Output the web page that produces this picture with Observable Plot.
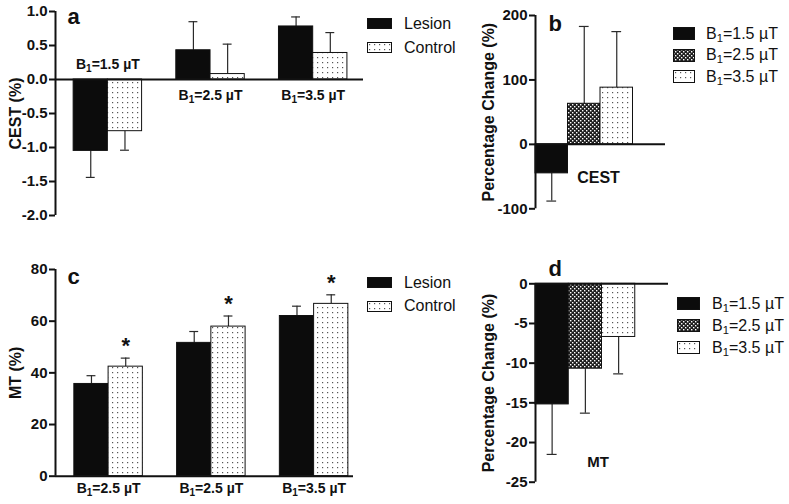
<!DOCTYPE html>
<html>
<head>
<meta charset="utf-8">
<script src="https://cdn.jsdelivr.net/npm/d3@7"></script>
<script src="https://cdn.jsdelivr.net/npm/@observablehq/plot@0.6"></script>
<style>
  body { margin: 0; background: #fff; }
  #fig { position: relative; width: 789px; height: 504px; overflow: hidden; background: #fff;
         font-family: "Liberation Sans", Arial, Helvetica, sans-serif; color: #111; }
  .panel { position: absolute; }
  .lg { position: absolute; display: flex; align-items: center; font-size: 16px; line-height: 1;
        white-space: nowrap; color: #111; }
  .lg svg { display: block; flex: none; }
  .lg sub { font-size: 70%; vertical-align: -0.3em; line-height: 0; }
</style>
</head>
<body>
<svg width="0" height="0" style="position:absolute">
  <defs>
    <pattern id="dots" width="5" height="5" patternUnits="userSpaceOnUse">
      <rect width="5" height="5" fill="#fff"/>
      <rect x="2" y="2" width="1.2" height="1.2" fill="#555"/>
    </pattern>
    <pattern id="checks" width="4" height="4" patternUnits="userSpaceOnUse">
      <rect width="4" height="4" fill="#1e1e1e"/>
      <rect x="0" y="0" width="1.4" height="1.4" fill="#fff"/>
      <rect x="2" y="2" width="1.4" height="1.4" fill="#fff"/>
    </pattern>
  </defs>
</svg>
<div id="fig"></div>
<script>
// ---------- data ----------
const seriesNames = ["Lesion", "Control"];

// panel a: CEST (%)
const cestGroups = ["B1=1.5 µT", "B1=2.5 µT", "B1=3.5 µT"];
const cestLesion = [-1.05, 0.43, 0.78];
const cestLesionErr = [0.39, 0.42, 0.14];
const cestControl = [-0.76, 0.08, 0.39];
const cestControlErr = [0.28, 0.44, 0.30];
const cestTicks = [-2, -1.5, -1, -0.5, 0, 0.5, 1];

// panel b: CEST percentage change
const fieldLabels = ["B1=1.5 µT", "B1=2.5 µT", "B1=3.5 µT"];
const cestChange = [-45, 63, 88];
const cestChangeErr = [43, 120, 87];
const cestChangeTicks = [-100, 0, 100, 200];

// panel c: MT (%)
const mtGroups = ["B1=2.5 µT", "B1=2.5 µT", "B1=3.5 µT"];
const mtLesion = [35.7, 51.6, 62.0];
const mtLesionErr = [3.2, 4.4, 3.8];
const mtControl = [42.4, 57.9, 66.7];
const mtControlErr = [3.3, 4.1, 3.5];
const mtSignificance = ["*", "*", "*"];
const mtTicks = [0, 20, 40, 60, 80];

// panel d: MT percentage change
const mtChange = [-15.2, -10.7, -6.7];
const mtChangeErr = [6.3, 5.6, 4.65];
const mtChangeTicks = [-25, -20, -15, -10, -5, 0];

const panelLetters = ["a", "b", "c", "d"];
const yTitles = ["CEST (%)", "Percentage Change (%)", "MT (%)", "Percentage Change (%)"];
const changeNames = ["CEST", "MT"];

// ---------- styling helpers ----------
const FONT = '"Liberation Sans", Arial, Helvetica, sans-serif';
const INK = "#111";
const seriesFill = {Lesion: "#0c0c0c", Control: "url(#dots)"};
const fieldFill = ["#0c0c0c", "url(#checks)", "url(#dots)"];
const baseStyle = {fontFamily: FONT, fontSize: "14px", fontWeight: "bold", color: INK,
                   background: "none", overflow: "visible"};

const fig = document.getElementById("fig");

function grouped(groups, lesion, lesionErr, control, controlErr) {
  return groups.flatMap((g, i) => [
    {g, i, j: 0, s: seriesNames[0], v: lesion[i], e: lesionErr[i]},
    {g, i, j: 1, s: seriesNames[1], v: control[i], e: controlErr[i]}
  ]);
}
const tip = d => d.v + Math.sign(d.v) * d.e;

function errorMarks(rows, center, cap) {
  return [
    Plot.ruleX(rows, {x: center, y1: "v", y2: tip, stroke: "#2a2a2a", strokeWidth: 1.2}),
    Plot.ruleY(rows, {y: tip, x1: d => center(d) - cap, x2: d => center(d) + cap, stroke: "#2a2a2a", strokeWidth: 1.2})
  ];
}
function yAxis(ticks, fmt) {
  return Plot.axisY(ticks, {tickSize: 6, tickPadding: 2, tickFormat: fmt, strokeWidth: 2,
                            fontSize: 15, fontWeight: "bold", label: null, stroke: INK});
}
function yTitle(t, dx) {
  return Plot.text([t], {text: d => d, frameAnchor: "left", textAnchor: "middle", rotate: -90, dx,
                         fontSize: 16, fontWeight: "bold"});
}
function letter(t, dx, dy) {
  return Plot.text([t], {text: d => d, frameAnchor: "top-left", textAnchor: "start", lineAnchor: "bottom",
                         dx, dy, fontSize: 22, fontWeight: "bold"});
}
function subscript(svg, px) {
  const NS = "http://www.w3.org/2000/svg";
  svg.querySelectorAll("text").forEach(t => {
    const s = t.textContent;
    if (!/^B1=/.test(s)) return;
    t.textContent = "";
    const a = document.createElementNS(NS, "tspan"); a.textContent = "B";
    const b = document.createElementNS(NS, "tspan"); b.textContent = "1";
    b.setAttribute("dy", px); b.setAttribute("font-size", "10");
    const c = document.createElementNS(NS, "tspan"); c.textContent = s.slice(2);
    c.setAttribute("dy", -px);
    t.append(a, b, c);
  });
}
function place(el, left, top) {
  el.classList.add("panel");
  el.style.left = left + "px";
  el.style.top = top + "px";
  fig.appendChild(el);
}
function legend(items, left, top, step, sw, sh, gap) {
  items.forEach((it, k) => {
    const row = document.createElement("div");
    row.className = "lg";
    row.style.left = left + "px";
    row.style.top = (top + k * step) + "px";
    row.style.height = sh + "px";
    row.innerHTML = `<svg width="${sw}" height="${sh}"><rect x="0.5" y="0.5" width="${sw - 1}" height="${sh - 1}" fill="${it.fill}" stroke="#111"/></svg>` +
      `<span style="margin-left:${gap}px">${it.label.replace(/^B1=/, "B<sub>1</sub>=")}</span>`;
    fig.appendChild(row);
  });
}

// ---------- panel a ----------
{
  const rows = grouped(cestGroups, cestLesion, cestLesionErr, cestControl, cestControlErr);
  const labels = cestGroups.map((g, i) => ({g, i, below: cestLesion[i] >= 0}));
  const left = -1.53;
  const svg = Plot.plot({
    width: 400, height: 230, marginLeft: 55, marginRight: 37, marginTop: 11, marginBottom: 15,
    x: {domain: [left, 7.47], axis: null},
    y: {domain: [-2, 1]},
    color: {type: "identity"},
    style: baseStyle,
    marks: [
      ...errorMarks(rows, d => 3 * d.i + d.j - 0.5, 0.13),
      Plot.rect(rows, {x1: d => 3 * d.i + d.j - 1, x2: d => 3 * d.i + d.j, y1: 0, y2: "v",
                       fill: d => seriesFill[d.s], stroke: INK, strokeWidth: 1}),
      Plot.ruleY([0], {stroke: INK, strokeWidth: 2}),
      Plot.ruleX([left], {y1: -2, y2: 1, stroke: INK, strokeWidth: 2}),
      yAxis(cestTicks, d => d.toFixed(1)),
      Plot.text(labels.filter(d => !d.below), {x: d => 3 * d.i, y: 0, dy: -15, text: "g", fontSize: 14, fontWeight: "bold"}),
      Plot.text(labels.filter(d => d.below), {x: d => 3 * d.i, y: 0, dy: 16, text: "g", fontSize: 14, fontWeight: "bold"}),
      yTitle(yTitles[0], -40),
      letter(panelLetters[0], 12, 12)
    ]
  });
  subscript(svg, 3);
  place(svg, 0, 0);
}

// ---------- panel b ----------
{
  const rows = fieldLabels.map((f, i) => ({f, i, v: cestChange[i], e: cestChangeErr[i]}));
  const svg = Plot.plot({
    width: 389, height: 230, marginLeft: 135, marginRight: 124, marginTop: 15, marginBottom: 21.7,
    x: {domain: [0, 4], axis: null},
    y: {domain: [-100, 200]},
    color: {type: "identity"},
    style: baseStyle,
    marks: [
      ...errorMarks(rows, d => d.i + 0.5, 0.15),
      Plot.rect(rows, {x1: d => d.i, x2: d => d.i + 1, y1: 0, y2: "v",
                       fill: d => fieldFill[d.i], stroke: INK, strokeWidth: 1}),
      Plot.ruleY([0], {stroke: INK, strokeWidth: 2}),
      Plot.ruleX([0], {y1: -100, y2: 200, stroke: INK, strokeWidth: 2}),
      yAxis(cestChangeTicks, d => String(d)),
      Plot.text([changeNames[0]], {text: d => d, x: 1.94, y: 0, dy: 34, fontSize: 16, fontWeight: "bold"}),
      yTitle(yTitles[1], -47),
      letter(panelLetters[1], 13, 15)
    ]
  });
  place(svg, 400, 0);
}

// ---------- panel c ----------
{
  const rows = grouped(mtGroups, mtLesion, mtLesionErr, mtControl, mtControlErr);
  const labels = mtGroups.map((g, i) => ({g, i}));
  const stars = rows.filter(d => d.j === 1).map(d => ({...d, star: mtSignificance[d.i]}));
  const left = -1.55;
  const svg = Plot.plot({
    width: 400, height: 254, marginLeft: 55, marginRight: 47, marginTop: 19, marginBottom: 28.3,
    x: {domain: [left, 7.15], axis: null},
    y: {domain: [0, 80]},
    color: {type: "identity"},
    style: baseStyle,
    marks: [
      ...errorMarks(rows, d => 3 * d.i + d.j - 0.5, 0.13),
      Plot.rect(rows, {x1: d => 3 * d.i + d.j - 1, x2: d => 3 * d.i + d.j, y1: 0, y2: "v",
                       fill: d => seriesFill[d.s], stroke: INK, strokeWidth: 1}),
      Plot.ruleY([0], {stroke: INK, strokeWidth: 2}),
      Plot.ruleX([left], {y1: 0, y2: 80, stroke: INK, strokeWidth: 2}),
      yAxis(mtTicks, d => String(d)),
      Plot.text(stars, {x: d => 3 * d.i + 0.5, y: tip, text: "star", lineAnchor: "bottom", dy: -5,
                        fontSize: 22, fontWeight: "bold"}),
      Plot.text(labels, {x: d => 3 * d.i, y: 0, dy: 12, text: "g", fontSize: 14, fontWeight: "bold"}),
      yTitle(yTitles[2], -40),
      letter(panelLetters[2], 12, 14)
    ]
  });
  subscript(svg, 3);
  place(svg, 0, 250);
}

// ---------- panel d ----------
{
  const rows = fieldLabels.map((f, i) => ({f, i, v: mtChange[i], e: mtChangeErr[i]}));
  const svg = Plot.plot({
    width: 389, height: 254, marginLeft: 135, marginRight: 121, marginTop: 33.3, marginBottom: 22.3,
    x: {domain: [0, 4], axis: null},
    y: {domain: [-25, 0]},
    color: {type: "identity"},
    style: baseStyle,
    marks: [
      ...errorMarks(rows, d => d.i + 0.5, 0.15),
      Plot.rect(rows, {x1: d => d.i, x2: d => d.i + 1, y1: 0, y2: "v",
                       fill: d => fieldFill[d.i], stroke: INK, strokeWidth: 1}),
      Plot.ruleY([0], {stroke: INK, strokeWidth: 2}),
      Plot.ruleX([0], {y1: -25, y2: 0, stroke: INK, strokeWidth: 2}),
      yAxis(mtChangeTicks, d => String(d)),
      Plot.text([changeNames[1]], {text: d => d, x: 1.88, frameAnchor: "bottom", dy: -15, fontSize: 15, fontWeight: "bold"}),
      yTitle(yTitles[3], -47),
      letter(panelLetters[3], 13, -8)
    ]
  });
  place(svg, 400, 250);
}

// ---------- legends ----------
const seriesItems = seriesNames.map(s => ({label: s, fill: seriesFill[s]}));
const fieldItems = fieldLabels.map((f, i) => ({label: f, fill: fieldFill[i]}));
legend(seriesItems, 367, 18, 24, 25, 11, 12);
legend(fieldItems, 673, 27, 21.7, 22, 13, 11);
legend(seriesItems, 367, 277, 23.5, 25, 11, 12);
legend(fieldItems, 677, 297, 22, 23, 13, 12);
</script>
</body>
</html>
